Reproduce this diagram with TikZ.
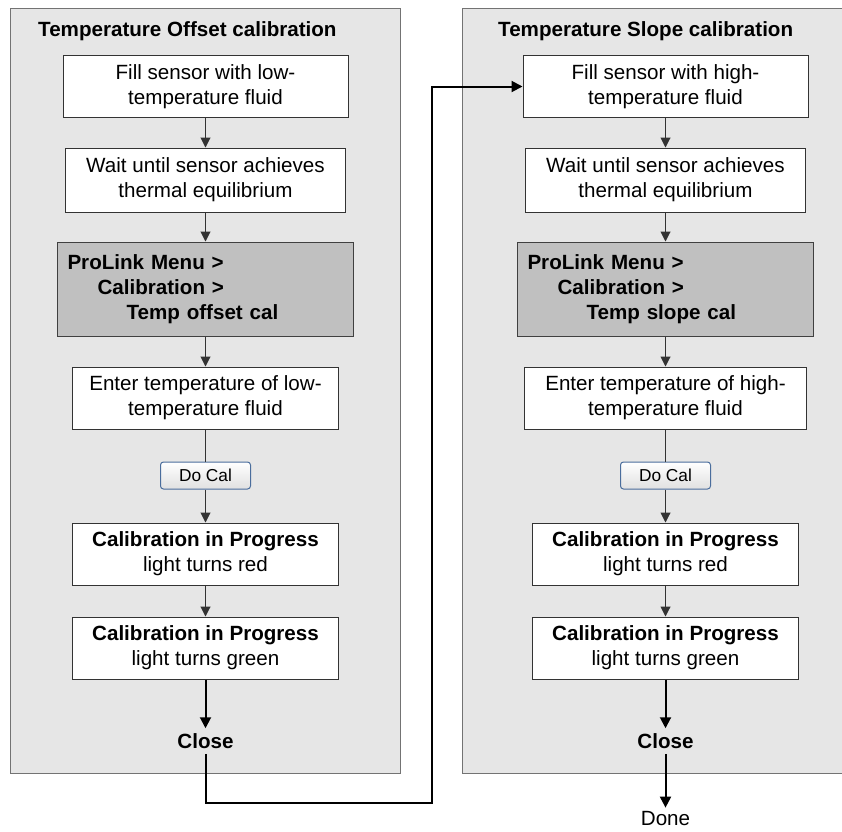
\documentclass[tikz,border=0pt]{standalone}
\usepackage{fontspec}
\setmainfont{Liberation Sans}
\usetikzlibrary{arrows.meta, positioning}
\definecolor{panelgray}{HTML}{E6E6E6}
\definecolor{menugray}{HTML}{C0C0C0}
\definecolor{btnblue}{HTML}{4A6D9C}

\begin{document}
\begin{tikzpicture}[
  x=1pt, y=-1pt,
  font=\fontsize{20.6}{25}\selectfont,
  panel/.style={fill=panelgray, draw=black!55, line width=1pt},
  stepbox/.style={draw=black!80, fill=white, line width=1pt, align=center, inner sep=0pt, minimum height=62pt},
  menubox/.style={draw=black!75, fill=menugray, line width=1pt, align=left, inner sep=0pt, text width=276pt, minimum width=296pt, minimum height=94pt, font=\fontsize{20.6}{25}\selectfont\bfseries},
  docal/.style={draw=btnblue, line width=1pt, rounded corners=3pt, top color=white, bottom color=black!12, minimum width=90pt, minimum height=27pt, inner sep=0pt, font=\fontsize{17.3}{20}\selectfont},
  title/.style={anchor=west, inner sep=0pt, font=\fontsize{20.6}{25}\selectfont\bfseries},
  closelbl/.style={inner sep=5pt, font=\fontsize{20.6}{25}\selectfont\bfseries},
  thinline/.style={draw=black!80, line width=1pt},
  thinarrow/.style={thinline, -{Triangle[length=10pt, width=10pt]}},
  heavyarrow/.style={black, line width=2pt, -{Triangle[length=11pt, width=11pt]}}
]
\useasboundingbox (0,0) rectangle (842,831);

% Panels
\draw[panel] (10,8) rectangle (400,773);
\fill[panelgray] (462,8) rectangle (842,773);
\draw[black!55, line width=1pt] (842,8) -- (462,8) -- (462,773) -- (842,773);

% --- Left column: offset calibration ---
\node[title] (titleA) at (38,31) {Temperature Offset calibration};
\node[stepbox, minimum width=285pt] (fillA) at (205.5,86.5) {Fill sensor with low-\\temperature fluid};
\node[stepbox, minimum width=280pt, minimum height=64pt] (waitA) at (205.5,180) {Wait until sensor achieves\\thermal equilibrium};
\node[menubox] (menuA) at (205.5,289) {ProLink Menu >\\\hspace*{30pt}Calibration >\\\hspace*{59pt}Temp offset cal};
\node[stepbox, minimum width=266pt] (enterA) at (205.5,398) {Enter temperature of low-\\temperature fluid};
\node[docal] (docalA) at (205.5,475.5) {Do Cal};
\node[stepbox, minimum width=266pt] (redA) at (205.5,554) {\textbf{Calibration in Progress}\\light turns red};
\node[stepbox, minimum width=266pt] (greenA) at (205.5,648) {\textbf{Calibration in Progress}\\light turns green};
\node[closelbl] (closeA) at (205.5,741) {Close};

\draw[thinarrow] (fillA) -- (waitA);
\draw[thinarrow] (waitA) -- (menuA);
\draw[thinarrow] (menuA) -- (enterA);
\draw[thinline] (enterA) -- (docalA);
\draw[thinarrow] (docalA) -- (redA);
\draw[thinarrow] (redA) -- (greenA);
\draw[heavyarrow] (greenA) -- (closeA);

% --- Right column: slope calibration ---
\node[title] (titleB) at (498,31) {Temperature Slope calibration};
\node[stepbox, minimum width=285pt] (fillB) at (665.5,86.5) {Fill sensor with high-\\temperature fluid};
\node[stepbox, minimum width=280pt, minimum height=64pt] (waitB) at (665.5,180) {Wait until sensor achieves\\thermal equilibrium};
\node[menubox] (menuB) at (665.5,289) {ProLink Menu >\\\hspace*{30pt}Calibration >\\\hspace*{59pt}Temp slope cal};
\node[stepbox, minimum width=282pt] (enterB) at (665.5,398) {Enter temperature of high-\\temperature fluid};
\node[docal] (docalB) at (665.5,475.5) {Do Cal};
\node[stepbox, minimum width=266pt] (redB) at (665.5,554) {\textbf{Calibration in Progress}\\light turns red};
\node[stepbox, minimum width=266pt] (greenB) at (665.5,648) {\textbf{Calibration in Progress}\\light turns green};
\node[closelbl] (closeB) at (665.5,741) {Close};
\node[inner sep=3pt] (done) at (665.5,818) {Done};

\draw[thinarrow] (fillB) -- (waitB);
\draw[thinarrow] (waitB) -- (menuB);
\draw[thinarrow] (menuB) -- (enterB);
\draw[thinline] (enterB) -- (docalB);
\draw[thinarrow] (docalB) -- (redB);
\draw[thinarrow] (redB) -- (greenB);
\draw[heavyarrow] (greenB) -- (closeB);
\draw[heavyarrow] (closeB) -- (done);

% Link between the two procedures
\coordinate (turn) at (431.5,803);
\draw[heavyarrow] (closeA.south) |- (turn) |- (fillB.west);

\end{tikzpicture}
\end{document}
